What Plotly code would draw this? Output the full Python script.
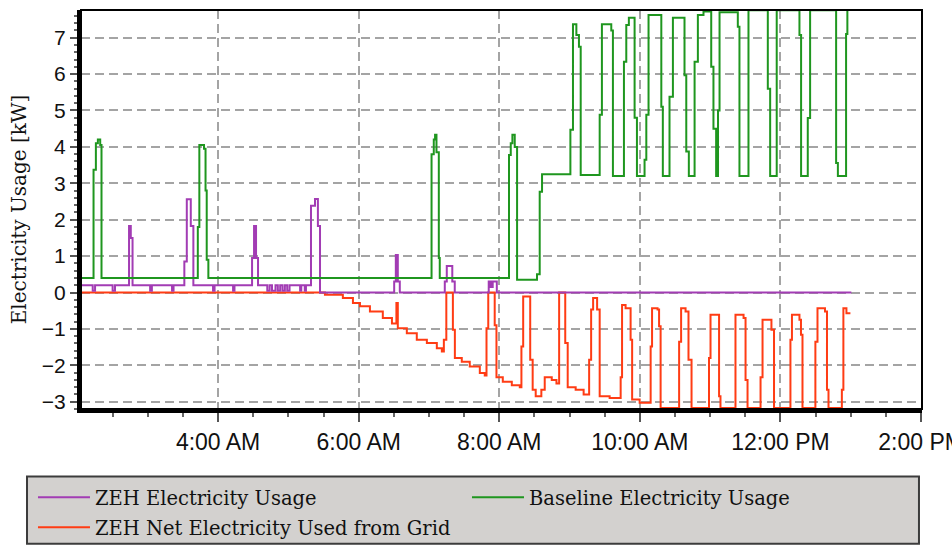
import pandas as pd
import plotly.graph_objects as go

# ---- data: minutes since midnight and kW values (step series) ----
day = pd.Timestamp("2010-07-15")

zeh_t = [123, 133, 135, 150, 152, 164, 165.5, 167, 182, 183.5, 200.7, 202,
         211.2, 213.3, 216.7, 218.9, 235.7, 237, 252.8, 254, 269, 270.7, 272.4, 274.1,
         282, 284, 286, 289, 291, 293, 295, 297, 299, 301, 310, 311, 314, 315,
         319.3, 322.7, 325.2, 327, 390.3, 391.7, 393.4, 395.1, 433.5, 435.2, 439.9, 442,
         471, 472.7, 474.4, 477.9, 780.5]
zeh_v = [0.2, 0.05, 0.2, 0.05, 0.2, 1.83, 1.5, 0.2, 0.05, 0.2, 0.05, 0.2,
         0.85, 2.56, 1.83, 0.2, 0.05, 0.2, 0.05, 0.2, 0.95, 1.83, 0.95, 0.2,
         0.05, 0.2, 0.05, 0.2, 0.05, 0.2, 0.05, 0.2, 0.05, 0.2, 0.05, 0.2, 0.05, 0.2,
         2.38, 2.57, 1.83, 0.0, 0.3, 1.03, 0.3, 0.0, 0.3, 0.73, 0.3, 0.0,
         0.3, 0.15, 0.3, 0.0, 0.0]

base_t = [123, 133.7, 135.7, 137.4, 139.4, 140.5, 222.7, 224.0, 228.0, 229.3, 230.3, 231.7,
          422.2, 424.1, 425.2, 426.4, 428.4, 429.2, 488.3, 489.8, 491.2, 493.2, 495.2,
          512.2, 514.5, 516.5,
          540.7, 542.9, 545.8, 548.0, 549.5,
          565.7, 567.6, 575.6, 577.0,
          586.4, 588.4, 590.6, 595.5, 597.5,
          604.0, 605.5, 607.4, 618.3, 619.6,
          625.3, 628.2, 638.1, 639.6, 641.8,
          646.7, 649.5, 654.3, 660.9, 662.8, 665.1,
          666.7, 668.0, 683.6, 685.0,
          692.7, 709.2, 711.2,
          716.8, 736.2, 737.6,
          743.3, 745.3, 767.5, 769.0,
          776.0, 777.1, 778.0]
base_v = [0.4, 3.37, 4.1, 4.2, 4.05, 0.4, 1.8, 4.05, 3.95, 2.8, 0.9, 0.4,
          3.8, 4.2, 4.33, 3.85, 0.95, 0.4, 3.78, 4.1, 4.33, 4.0, 0.35,
          0.5, 2.77, 3.25,
          4.47, 7.37, 7.07, 6.75, 3.23,
          4.88, 7.37, 7.2, 3.2,
          6.34, 7.35, 7.55, 4.8, 3.2,
          3.65, 4.88, 7.62, 5.1, 3.2,
          5.38, 7.55, 5.97, 3.87, 3.2,
          6.34, 7.62, 7.72, 6.2, 4.5, 3.2,
          5.0, 7.7, 7.3, 3.2,
          7.75, 5.6, 3.2,
          7.75, 7.07, 3.2,
          4.79, 7.75, 3.56, 3.2,
          7.1, 7.75, 7.75]

net_t = [123, 331.2, 346.5, 355.1, 361.1, 369.6, 380.6, 388.4, 392.2, 393.4, 401.1, 409.6,
         418.2, 426.7, 431.0, 432.7, 434.8, 440.4, 442.1, 448.0, 454.8, 463.4, 467.6, 469.1,
         470.6, 476.1, 477.6, 483.0, 490.7, 497.5, 498.9, 500.4, 506.4, 508.5, 511.1, 515.9,
         518.8, 524.8, 528.8, 531.1, 536.3, 538.4, 545.2, 552.0, 556.7, 558.4, 560.1, 563.5,
         565.7, 574.2, 583.6, 584.8, 587.8, 592.1, 593.4, 599.8, 609.2, 610.4, 615.1, 616.4,
         617.7, 633.5, 635.2, 639.0, 641.5, 644.1, 659.0, 660.3, 667.6, 668.8, 681.6, 688.5,
         690.2, 691.9, 703.0, 704.7, 712.3, 714.5, 728.5, 729.8, 736.2, 737.5, 738.8, 749.8,
         751.6, 758.0, 759.7, 761.0, 772.4, 773.7, 776.3, 779.7]
net_v = [0, -0.06, -0.15, -0.29, -0.38, -0.52, -0.7, -0.85, -0.29, -0.98, -1.12, -1.3,
         -1.39, -1.53, -1.62, -1.3, 0, -1.02, -1.8, -1.9, -2.03, -2.21, -2.28, -0.98,
         0, -0.9, -2.33, -2.45, -2.55, -2.6, -1.48, -0.11, -1.85, -2.67, -2.85, -2.67,
         -2.33, -2.4, -2.5, 0, -1.39, -2.6, -2.67, -2.8, -1.85, -0.47, -0.15, -0.47,
         -2.85, -2.9, -2.33, -0.34, -0.43, -1.3, -2.94, -3.03, -1.48, -0.43, -0.47, -0.93,
         -3.17, -1.35, -0.43, -0.52, -1.85, -3.17, -1.8, -0.61, -2.85, -3.17, -0.61, -0.7,
         -2.4, -3.17, -2.33, -0.75, -1.02, -3.17, -1.3, -0.61, -0.75, -1.16, -3.17, -1.35,
         -0.43, -0.52, -2.67, -3.17, -2.67, -0.43, -0.57, -0.57]

series_names = ["ZEH Electricity Usage", "Baseline Electricity Usage",
                "ZEH Net Electricity Used from Grid"]
series_colors = ["#a23cb4", "#1f961f", "#ff3c14"]


def to_time(mins):
    return day + pd.to_timedelta(mins, unit="min")


fig = go.Figure()
fig.add_trace(go.Scatter(x=to_time(net_t), y=net_v, mode="lines", name=series_names[2],
                         line=dict(color=series_colors[2], width=2, shape="hv"),
                         legend="legend2"))
fig.add_trace(go.Scatter(x=to_time(zeh_t), y=zeh_v, mode="lines", name=series_names[0],
                         line=dict(color=series_colors[0], width=2, shape="hv"),
                         legend="legend"))
fig.add_trace(go.Scatter(x=to_time(base_t), y=base_v, mode="lines", name=series_names[1],
                         line=dict(color=series_colors[1], width=2, shape="hv"),
                         legend="legend"))

grid = dict(showgrid=True, gridcolor="#a4a4a4", gridwidth=2, griddash="9px,5px")
leg_common = dict(orientation="h", xanchor="left", yanchor="top", x=-0.0571,
                  bgcolor="rgba(0,0,0,0)", borderwidth=0, itemwidth=52,
                  entrywidth=367, entrywidthmode="pixels",
                  font=dict(family="DejaVu Serif", size=19.5, color="#111111"))

fig.update_layout(
    width=952, height=545,
    margin=dict(l=81, r=30, t=10, b=136, pad=0, autoexpand=False),
    paper_bgcolor="white", plot_bgcolor="white",
    showlegend=True,
    xaxis=dict(type="date",
               range=[to_time(123), to_time(840.8)],
               tickformat="%-I:%M %p", dtick=7200000, tick0=day,
               ticks="outside", ticklen=9, tickwidth=2, tickcolor="#555555",
               showline=True, linecolor="black", linewidth=4, zeroline=False,
               ticklabeloverflow="allow",
               tickfont=dict(family="Liberation Sans", size=23, color="#111111"),
               minor=dict(dtick=1800000, ticklen=4, tickwidth=2, tickcolor="#666666",
                          ticks="outside", showgrid=False),
               **grid),
    yaxis=dict(range=[-3.2, 7.76], dtick=1, tick0=0,
               ticks="outside", ticklen=7, tickwidth=2, tickcolor="#555555",
               showline=True, linecolor="black", linewidth=4, zeroline=False,
               tickfont=dict(family="Liberation Sans", size=21, color="#111111"),
               title=dict(text="Electricity Usage [kW]", standoff=11,
                          font=dict(family="DejaVu Serif", size=20, color="#111111")),
               minor=dict(dtick=0.2, ticklen=3, tickwidth=1.5, tickcolor="#666666",
                          ticks="outside", showgrid=False),
               **grid),
    legend=dict(y=-0.1729, **leg_common),
    legend2=dict(y=-0.2481, **leg_common),
    shapes=[
        dict(type="rect", xref="paper", yref="paper", x0=-0.0642, x1=0.9964,
             y0=-0.3375, y1=-0.1692, line=dict(color="#3c3c3c", width=2),
             fillcolor="#d3d1cf", layer="below"),
        dict(type="rect", xref="paper", yref="paper", x0=0, x1=1, y0=0, y1=1,
             line=dict(color="black", width=2), fillcolor="rgba(0,0,0,0)", layer="above"),
    ],
)

fig.write_html("out.html")
